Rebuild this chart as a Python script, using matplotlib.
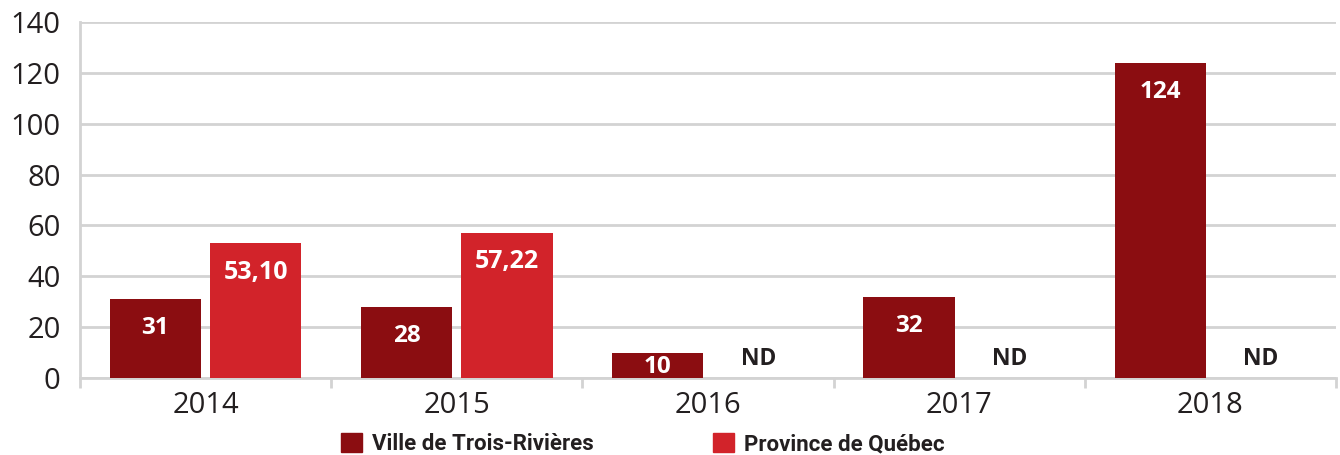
import numpy as np
import matplotlib
matplotlib.use("Agg")
import matplotlib.pyplot as plt
from matplotlib.patches import Patch

annees = ["2014", "2015", "2016", "2017", "2018"]
ville = [31, 28, 10, 32, 124]
province = [53.10, 57.22, None, None, None]
etiq_ville = ["31", "28", "10", "32", "124"]
etiq_province = ["53,10", "57,22", "ND", "ND", "ND"]

rouge_fonce = "#8B0D11"
rouge = "#D2232A"
gris = "#D3D3D3"
texte = "#231F20"

plt.rcParams["font.family"] = ["Open Sans", "DejaVu Sans"]

fig = plt.figure(figsize=(13.4, 4.55), dpi=100)
ax = fig.add_axes([0.0597, 0.1692, 0.9373, 0.7824])

x = np.arange(len(annees))
larg = 0.363
dx = 0.2

ax.bar(x - dx, ville, larg, color=rouge_fonce, zorder=3)
prov_vals = [v if v is not None else 0 for v in province]
ax.bar(x + dx, prov_vals, larg, color=rouge, zorder=3)

for i, v in enumerate(ville):
    y = v - 11.5 if v > 20 else v / 2 - 0.5
    ax.text(x[i] - dx, y, etiq_ville[i], ha="center", va="center",
            color="white", fontsize=17.5, fontweight="bold", zorder=4)
for i, v in enumerate(province):
    if v is not None:
        ax.text(x[i] + dx, v - 11.5, etiq_province[i], ha="center", va="center",
                color="white", fontsize=18, fontweight="bold", zorder=4)
    else:
        ax.text(x[i] + dx, 7.3, etiq_province[i], ha="center", va="center",
                color=texte, fontsize=16.5, fontweight="bold", zorder=4)

ax.set_xlim(-0.5, len(annees) - 0.5)
ax.set_ylim(0, 140)
ax.set_yticks(np.arange(0, 141, 20))
ax.yaxis.grid(True, color=gris, linewidth=2, zorder=0)
ax.set_axisbelow(True)

ax.set_xticks(x)
ax.set_xticklabels(annees)
ax.set_xticks(np.arange(-0.5, len(annees), 1), minor=True)
ax.tick_params(axis="x", which="major", length=0, pad=9, labelsize=21, labelcolor=texte)
ax.tick_params(axis="x", which="minor", length=7, width=2, color=gris)
ax.tick_params(axis="y", length=0, pad=14, labelsize=21, labelcolor=texte)

for s in ["top", "right"]:
    ax.spines[s].set_visible(False)
for s in ["left", "bottom"]:
    ax.spines[s].set_color(gris)
    ax.spines[s].set_linewidth(2)

handles = [Patch(color=rouge_fonce, label="Ville de Trois-Rivières"),
           Patch(color=rouge, label="Province de Québec")]
fig.legend(handles=handles, loc="center", bbox_to_anchor=(0.48, 0.024), ncol=2,
           frameon=False, columnspacing=5.36, handlelength=0.95, handleheight=0.95,
           handletextpad=0.45,
           prop={"family": ["Roboto", "DejaVu Sans"], "weight": "bold", "size": 16})
for t in fig.legends[0].get_texts():
    t.set_color(texte)

fig.savefig("out.png", dpi=100)
